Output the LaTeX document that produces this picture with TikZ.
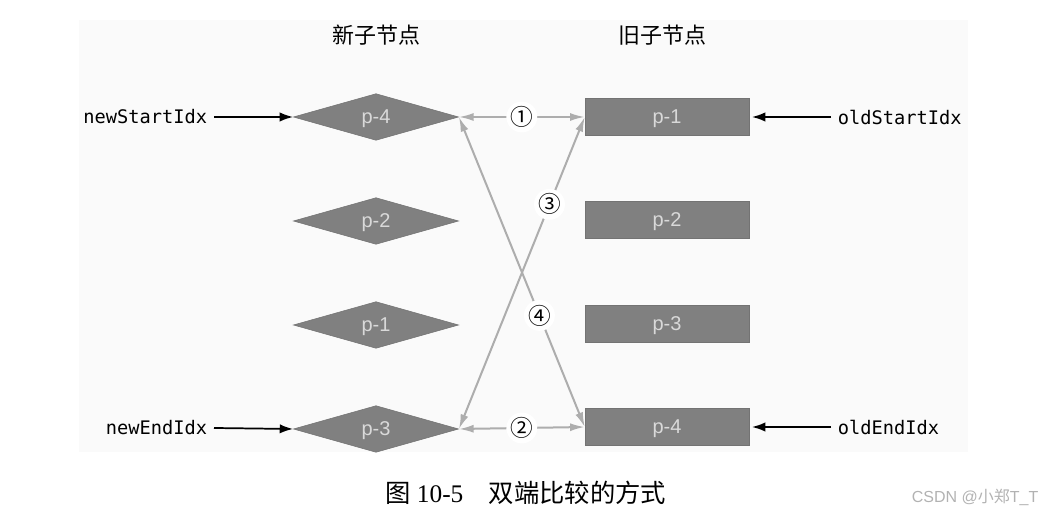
\documentclass[tikz,border=0pt]{standalone}
\usepackage{fontspec}
\setmainfont{Liberation Serif}
\setsansfont{Liberation Sans}
\setmonofont{DejaVu Sans Mono}
\newfontfamily\cjk{Noto Sans CJK SC}
\usetikzlibrary{arrows.meta,shapes.geometric}

\begin{document}
\begin{tikzpicture}[x=0.75pt, y=-0.75pt, >=Latex,
newnode/.style={diamond, draw=black!55, fill=black!50, minimum width=124pt, minimum height=35pt, inner sep=0pt, text depth=0pt, text=white!85!black, font=\sffamily\fontsize{15}{15}\selectfont},
oldnode/.style={rectangle, draw=black!55, fill=black!50, minimum width=123pt, minimum height=28pt, inner sep=0pt, text depth=0pt, text=white!85!black, font=\sffamily\fontsize{15}{15}\selectfont},
idx/.style={font=\ttfamily\fontsize{14}{14}\selectfont, inner sep=5pt},
ptr/.style={->, line width=1.3pt, black, -{Latex[length=10pt,width=7pt]}},
cmp/.style={line width=1.5pt, black!32, {Latex[length=11pt,width=6pt]}-{Latex[length=11pt,width=6pt]}},
num/.style={fill=white, text=black, circle, inner sep=0pt, font=\cjk\fontsize{17}{17}\selectfont},
head/.style={font=\cjk\fontsize{16.5}{16.5}\selectfont}]

\useasboundingbox (0,0) rectangle (1047,523);
\fill[black!2] (79,20) rectangle (968,452);

\node[head] (newhead) at (376,35) {新子节点};
\node[head] (oldhead) at (662,35) {旧子节点};

% new children
\node[newnode] (n4) at (376,117) {p-4};
\node[newnode] (n2) at (376,221) {p-2};
\node[newnode] (n1) at (376,325) {p-1};
\node[newnode] (n3) at (376,429) {p-3};

% old children
\node[oldnode] (o1) at (667,117) {p-1};
\node[oldnode] (o2) at (667,220) {p-2};
\node[oldnode] (o3) at (667,324) {p-3};
\node[oldnode] (o4) at (667,427) {p-4};

% indices
\node[idx, anchor=east] (nsi) at (214,117) {newStartIdx};
\node[idx, anchor=east] (nei) at (214,428) {newEndIdx};
\node[idx, anchor=west] (osi) at (831,117) {oldStartIdx};
\node[idx, anchor=west] (oei) at (831,427) {oldEndIdx};
\draw[ptr] (nsi.east) -- (n4.west);
\draw[ptr] (nei.east) -- (n3.west);
\draw[ptr] (osi.west) -- ([xshift=2pt]o1.east);
\draw[ptr] (oei.west) -- ([xshift=2pt]o4.east);

% comparisons
\draw[cmp] (n4.east) -- node[num] {①} (o1.west);
\draw[cmp] (n3.east) -- node[num] {②} (o4.west);
\draw[cmp] (n3.east) -- node[num, pos=0.72] {③} (o1.west);
\draw[cmp] (n4.east) -- node[num, pos=0.64] {④} (o4.west);

\node[font=\cjk\fontsize{19}{19}\selectfont] (caption) at (526,493) {图 {\rmfamily 10-5}\quad 双端比较的方式};
\node[font=\sffamily\fontsize{12}{12}\selectfont, text=black!30, anchor=east] (mark) at (1043,497) {CSDN @{\cjk 小郑}T\_T};
\end{tikzpicture}
\end{document}
